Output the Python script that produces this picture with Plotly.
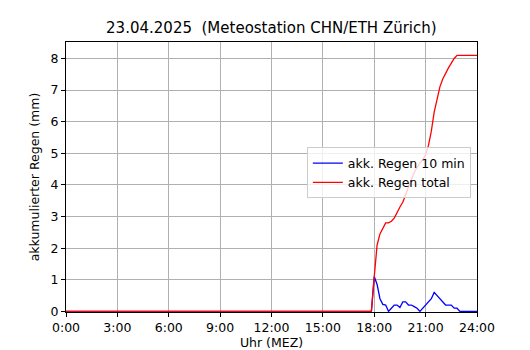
import plotly.graph_objects as go

# Times (HH:MM) of the 10-minute samples; before 17:50 every value is 0
times = ["0:00", "17:50", "18:00", "18:10", "18:20", "18:30", "18:40", "18:50",
         "19:00", "19:10", "19:20", "19:30", "19:40", "19:50", "20:00", "20:10",
         "20:20", "20:30", "20:40", "20:50", "21:00", "21:10", "21:20", "21:30",
         "21:40", "21:50", "22:00", "22:10", "22:20", "22:30", "22:40", "22:50",
         "23:00", "24:00"]

regen_10min = [0, 0, 1.1, 0.85, 0.4, 0.22, 0.2, 0.0,
               0.1, 0.2, 0.2, 0.12, 0.3, 0.3, 0.2, 0.2,
               0.15, 0.1, 0.0, 0.1, 0.2, 0.3, 0.4, 0.6,
               0.5, 0.4, 0.3, 0.2, 0.2, 0.2, 0.1, 0.1,
               0.0, 0.0]

regen_total = [0, 0, 1.1, 2.1, 2.45, 2.65, 2.8, 2.8,
               2.85, 2.95, 3.15, 3.3, 3.45, 3.7, 3.95, 4.2,
               4.4, 4.55, 4.7, 4.8, 4.95, 5.25, 5.7, 6.3,
               6.75, 7.1, 7.35, 7.55, 7.7, 7.85, 8.0, 8.1,
               8.1, 8.1]

x_tick_vals = [0, 3, 6, 9, 12, 15, 18, 21, 24]
x_tick_text = ["0:00", "3:00", "6:00", "9:00", "12:00", "15:00", "18:00", "21:00", "24:00"]
y_tick_vals = [0, 1, 2, 3, 4, 5, 6, 7, 8]

title_text = "23.04.2025  (Meteostation CHN/ETH Zürich)"


def to_hours(t):
    h, m = t.split(":")
    return int(h) + int(m) / 60.0


hours = [to_hours(t) for t in times]

FONT = "DejaVu Sans"
FS = 12.5

fig = go.Figure()
fig.add_trace(go.Scatter(x=hours, y=regen_10min, mode="lines",
                         name="akk. Regen 10 min",
                         line=dict(color="#0000ff", width=1.3)))
fig.add_trace(go.Scatter(x=hours, y=regen_total, mode="lines",
                         name="akk. Regen total",
                         line=dict(color="#ff0000", width=1.3)))

axis_common = dict(showline=True, linecolor="black", linewidth=1, mirror=True,
                   ticks="outside", ticklen=4, tickcolor="black", tickwidth=1,
                   showgrid=True, gridcolor="#b0b0b0", gridwidth=1,
                   zeroline=False, automargin=False,
                   tickfont=dict(family=FONT, size=FS, color="black"))

fig.update_layout(
    width=530, height=350,
    margin=dict(l=66, r=53, t=42, b=38, autoexpand=False),
    paper_bgcolor="white", plot_bgcolor="white",
    font=dict(family=FONT, color="black"),
    title=dict(text=title_text, x=0.512, xanchor="center",
               yref="container", y=1 - 28 / 350, yanchor="middle",
               font=dict(family=FONT, size=15, color="black")),
    showlegend=True,
    legend=dict(x=0.985, xanchor="right", y=0.515, yanchor="middle",
                bgcolor="rgba(255,255,255,0.8)", bordercolor="#cccccc", borderwidth=1,
                font=dict(family=FONT, size=FS, color="black"),
                tracegroupgap=0, itemwidth=30),
    xaxis=dict(range=[0, 24], tickvals=x_tick_vals, ticktext=x_tick_text,
               title=dict(text="Uhr (MEZ)", font=dict(family=FONT, size=FS), standoff=8),
               **axis_common),
    yaxis=dict(range=[-0.02, 8.52], tickvals=y_tick_vals,
               title=dict(text="akkumulierter Regen (mm)", font=dict(family=FONT, size=FS), standoff=8),
               **axis_common),
)

fig.write_html("out.html", config={"displayModeBar": False},
               post_script="document.body.style.margin='0';document.body.style.overflow='hidden';")
